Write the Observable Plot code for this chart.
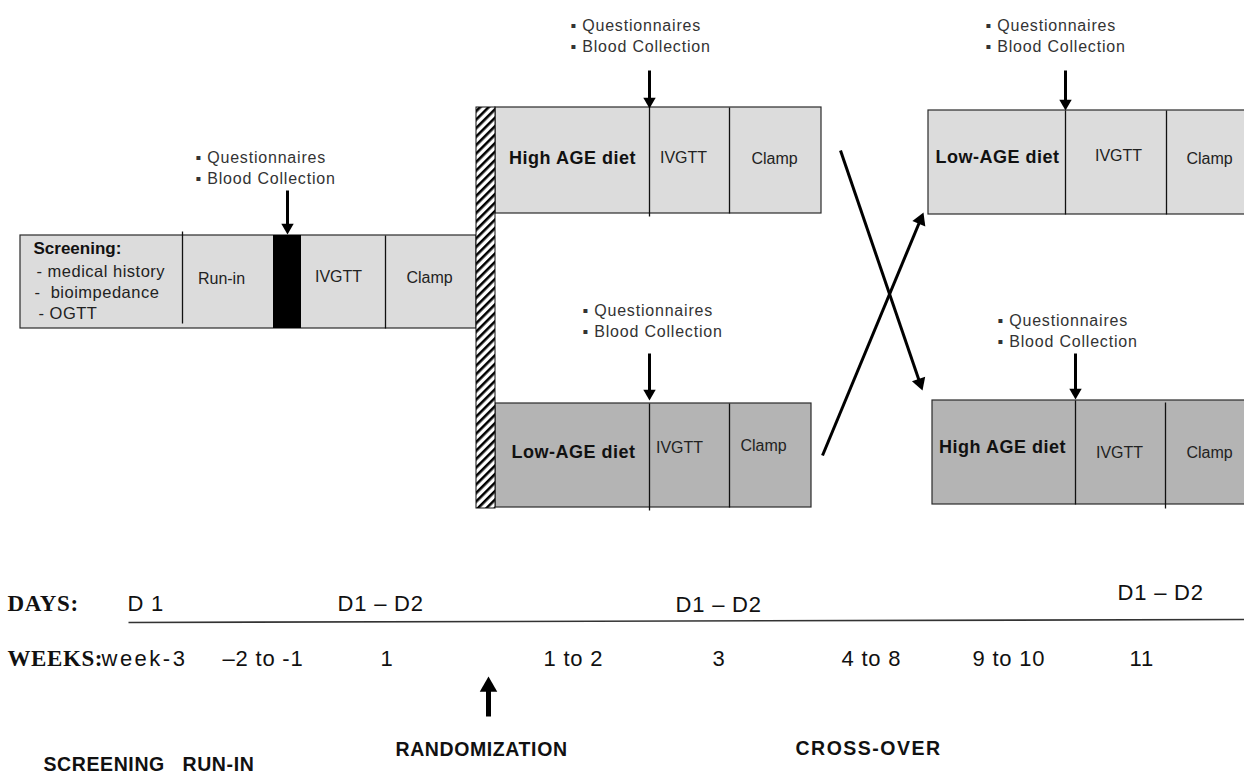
<!DOCTYPE html>
<html><head><meta charset="utf-8">
<script src="https://cdn.jsdelivr.net/npm/d3@7"></script>
<script src="https://cdn.jsdelivr.net/npm/@observablehq/plot@0.6"></script>
<style>
html,body{margin:0;padding:0;background:#fff;overflow:hidden}
</style>
</head><body><div id="chart"></div>
<script>
// ---------- data (diagram units: x to the right, y downward) ----------
const boxes = [
  {id: "screening", x1: 20,  x2: 476,  y1: 235, y2: 328, tone: "light"},
  {id: "period1A",  x1: 495, x2: 821,  y1: 107, y2: 213, tone: "light"},
  {id: "period1B",  x1: 495, x2: 811,  y1: 403, y2: 507, tone: "dark"},
  {id: "period2A",  x1: 928, x2: 1260, y1: 110, y2: 214, tone: "light"},
  {id: "period2B",  x1: 932, x2: 1260, y1: 400, y2: 504, tone: "dark"}
];
const blackBlock = [{x1: 273, x2: 301, y1: 235, y2: 328}];
const hatchBar = [{x1: 476, x2: 495, y1: 107, y2: 508}];
const dividers = [
  {x: 182,  y1: 231, y2: 323},
  {x: 385,  y1: 235, y2: 328},
  {x: 649,  y1: 104, y2: 216},
  {x: 729,  y1: 107, y2: 213},
  {x: 649,  y1: 403, y2: 510},
  {x: 729,  y1: 403, y2: 507},
  {x: 1065, y1: 110, y2: 214},
  {x: 1166, y1: 110, y2: 214},
  {x: 1075, y1: 400, y2: 504},
  {x: 1165, y1: 402, y2: 508}
];
const screeningTitle = [{text: "Screening:", x: 33, y: 248}];
const screeningItems = [
  {text: "- medical history", x: 36, y: 271},
  {text: "-  bioimpedance",   x: 34, y: 292},
  {text: "- OGTT",            x: 38, y: 313}
];
const dietLabels = [
  {text: "High AGE diet", x: 572,  y: 158},
  {text: "Low-AGE diet",  x: 573,  y: 452},
  {text: "Low-AGE diet",  x: 997,  y: 157},
  {text: "High AGE diet", x: 1002, y: 447}
];
const stepLabels = [
  {text: "Run-in", x: 221,  y: 278},
  {text: "IVGTT",  x: 338,  y: 276},
  {text: "Clamp",  x: 429,  y: 277},
  {text: "IVGTT",  x: 683,  y: 157},
  {text: "Clamp",  x: 774,  y: 158},
  {text: "IVGTT",  x: 679,  y: 447},
  {text: "Clamp",  x: 763,  y: 445},
  {text: "IVGTT",  x: 1118, y: 155},
  {text: "Clamp",  x: 1209, y: 158},
  {text: "IVGTT",  x: 1119, y: 452},
  {text: "Clamp",  x: 1209, y: 452}
];
const noteLines = ["▪ Questionnaires", "▪ Blood Collection"];
const notes = [
  {x: 195, y: 157},
  {x: 570, y: 25},
  {x: 582, y: 310},
  {x: 985, y: 25},
  {x: 997, y: 320}
];
const downArrows = [
  {x: 287,  y1: 190, y2: 234},
  {x: 649,  y1: 70,  y2: 108},
  {x: 649,  y1: 353, y2: 400},
  {x: 1065, y1: 70,  y2: 110},
  {x: 1075, y1: 353, y2: 399}
];
const crossArrows = [
  {x1: 840, y1: 150, x2: 922, y2: 390},
  {x1: 822, y1: 455, x2: 923, y2: 212}
];
const randomArrow = [{x: 488, y1: 716, y2: 676}];
const timeline = [{x1: 128, y1: 622, x2: 1244, y2: 619}];
const rowTitles = [
  {text: "DAYS:",  x: 7, y: 603},
  {text: "WEEKS:", x: 7, y: 658}
];
const dayLabels = [
  {text: "D 1",     x: 127,  y: 603},
  {text: "D1 – D2", x: 337,  y: 603},
  {text: "D1 – D2", x: 675,  y: 604},
  {text: "D1 – D2", x: 1117, y: 592}
];
const weekLabels = [
  {text: "week-3",   x: 101,  y: 658},
  {text: "–2 to -1", x: 222,  y: 658},
  {text: "1",        x: 380,  y: 658},
  {text: "1 to 2",   x: 543,  y: 658},
  {text: "3",        x: 712,  y: 658},
  {text: "4 to 8",   x: 841,  y: 658},
  {text: "9 to 10",  x: 972,  y: 658},
  {text: "11",       x: 1129, y: 658}
];
const phaseLabels = [
  {text: "SCREENING",     x: 43,  y: 764},
  {text: "RUN-IN",        x: 182, y: 764},
  {text: "RANDOMIZATION", x: 395, y: 749},
  {text: "CROSS-OVER",    x: 795, y: 748}
];

// ---------- styling ----------
const SANS = "Liberation Sans, Arial, sans-serif";
const SERIF = "Liberation Serif, Times New Roman, serif";
const tones = {light: "#dcdcdc", dark: "#b4b4b4"};

// arrowhead geometry (d3 triangle centered at centroid)
const headOffset = r => 2 * Math.sqrt(r * r * Math.PI / (Math.sqrt(3) * 3));
const angleOf = (dx, dy) => Math.atan2(dx, -dy) * 180 / Math.PI;
const R1 = 4.6, R2 = 5.2, R3 = 6.5;
const o1 = headOffset(R1), o2 = headOffset(R2), o3 = headOffset(R3);
const crossHead = crossArrows.map(d => {
  const dx = d.x2 - d.x1, dy = d.y2 - d.y1, L = Math.hypot(dx, dy);
  return {x: d.x2 - dx / L * o2, y: d.y2 - dy / L * o2, a: angleOf(dx, dy), x1: d.x1, y1: d.y1};
});

const noteData = notes.flatMap(n => noteLines.map((t, i) => ({text: t, x: n.x, y: n.y + i * 21})));

const plot = Plot.plot({
  width: 1244,
  height: 774,
  margin: 0,
  x: {domain: [0, 1244], range: [0, 1244], axis: null},
  y: {domain: [0, 774], range: [0, 774], axis: null},
  style: {background: "#fff", fontFamily: SANS, overflow: "hidden"},
  marks: [
    Plot.rect(boxes, {x1: "x1", x2: "x2", y1: "y1", y2: "y2", fill: d => tones[d.tone], stroke: "#2a2a2a", strokeWidth: 1.2}),
    Plot.rect(blackBlock, {x1: "x1", x2: "x2", y1: "y1", y2: "y2", fill: "#000"}),
    Plot.rect(hatchBar, {x1: "x1", x2: "x2", y1: "y1", y2: "y2", fill: "url(#hatch)", stroke: "#111", strokeWidth: 1}),
    Plot.link(dividers, {x1: "x", x2: "x", y1: "y1", y2: "y2", stroke: "#111", strokeWidth: 1.3}),
    // arrows
    Plot.link(downArrows, {x1: "x", x2: "x", y1: "y1", y2: d => d.y2 - o1, stroke: "#000", strokeWidth: 3}),
    Plot.dot(downArrows, {x: "x", y: d => d.y2 - o1, symbol: "triangle", r: R1, fill: "#000", stroke: "none", rotate: 180}),
    Plot.link(crossHead, {x1: "x1", y1: "y1", x2: "x", y2: "y", stroke: "#000", strokeWidth: 3}),
    Plot.dot(crossHead, {x: "x", y: "y", symbol: "triangle", r: R2, fill: "#000", stroke: "none", rotate: "a"}),
    Plot.link(randomArrow, {x1: "x", x2: "x", y1: "y1", y2: d => d.y2 + o3, stroke: "#000", strokeWidth: 5}),
    Plot.dot(randomArrow, {x: "x", y: d => d.y2 + o3, symbol: "triangle", r: R3, fill: "#000", stroke: "none"}),
    Plot.link(timeline, {x1: "x1", y1: "y1", x2: "x2", y2: "y2", stroke: "#333", strokeWidth: 1.6}),
    // texts
    Plot.text(noteData, {x: "x", y: "y", text: "text", textAnchor: "start", fontSize: 16, fill: "#333", ariaDescription: "notes"}),
    Plot.text(screeningTitle, {x: "x", y: "y", text: "text", textAnchor: "start", fontSize: 17, fontWeight: "bold", fill: "#111"}),
    Plot.text(screeningItems, {x: "x", y: "y", text: "text", textAnchor: "start", fontSize: 16.5, fill: "#222", ariaDescription: "items"}),
    Plot.text(dietLabels, {x: "x", y: "y", text: "text", fontSize: 18, fontWeight: "bold", fill: "#111", ariaDescription: "diets"}),
    Plot.text(stepLabels, {x: "x", y: "y", text: "text", fontSize: 16, fill: "#222"}),
    Plot.text(rowTitles, {x: "x", y: "y", text: "text", textAnchor: "start", fontSize: 23, fontWeight: "bold", fontFamily: SERIF, fill: "#111", ariaDescription: "rowtitles"}),
    Plot.text(dayLabels, {x: "x", y: "y", text: "text", textAnchor: "start", fontSize: 22, fill: "#111", ariaDescription: "timeline"}),
    Plot.text(weekLabels, {x: "x", y: "y", text: "text", textAnchor: "start", fontSize: 22, fill: "#111", ariaDescription: "timeline"}),
    Plot.text(phaseLabels, {x: "x", y: "y", text: "text", textAnchor: "start", fontSize: 19.5, fontWeight: "bold", fill: "#111", ariaDescription: "phases"})
  ]
});

// hatch pattern for the randomization bar
const svg = d3.select(plot);
const defs = svg.insert("defs", ":first-child");
const pat = defs.append("pattern").attr("id", "hatch").attr("patternUnits", "userSpaceOnUse")
  .attr("width", 6).attr("height", 6).attr("patternTransform", "rotate(45)");
pat.append("rect").attr("width", 6).attr("height", 6).attr("fill", "#fff");
pat.append("rect").attr("width", 2.6).attr("height", 6).attr("fill", "#000");

const spacing = (name, px) => svg.selectAll(`g[aria-description="${name}"] text`).style("letter-spacing", px);
spacing("notes", "0.8px");
spacing("items", "0.5px");
spacing("diets", "0.5px");
spacing("timeline", "0.8px");
spacing("rowtitles", "0.6px");
spacing("phases", "0.6px");
svg.selectAll("text").filter(function() { return this.textContent === "week-3"; }).style("letter-spacing", "2.5px");
svg.selectAll("text").filter(function() { return this.textContent === "CROSS-OVER"; }).style("letter-spacing", "1.5px");

document.getElementById("chart").appendChild(plot);
</script>
</body></html>
